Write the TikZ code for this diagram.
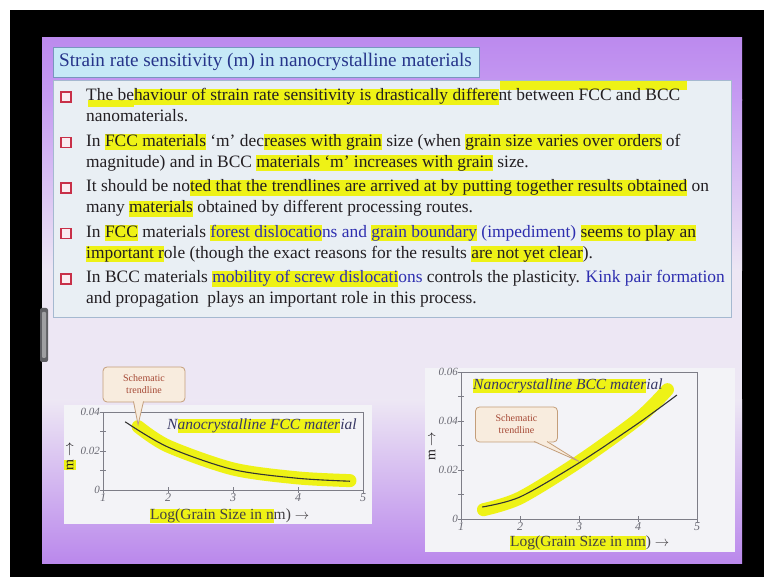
\documentclass[tikz,border=0pt]{standalone}
\usepackage{fontspec}
\setmainfont{Liberation Serif}

\definecolor{slideA}{RGB}{188,138,238}
\definecolor{slideB}{RGB}{198,156,242}
\definecolor{slidePale}{RGB}{237,231,244}
\definecolor{slideC}{RGB}{186,136,236}
\definecolor{titlefill}{RGB}{198,233,247}
\definecolor{titledraw}{RGB}{120,150,190}
\definecolor{titletext}{RGB}{38,52,138}
\definecolor{boxfill}{RGB}{233,239,244}
\definecolor{boxdraw}{RGB}{165,185,208}
\definecolor{bodytext}{RGB}{34,30,34}
\definecolor{tblue}{RGB}{45,45,175}
\definecolor{bulletred}{RGB}{200,48,72}
\definecolor{bulletfill}{RGB}{250,236,240}
\definecolor{marker}{RGB}{238,242,22}
\definecolor{panelfill}{RGB}{243,243,247}
\definecolor{axisgray}{RGB}{125,125,135}
\definecolor{ticktext}{RGB}{105,105,115}
\definecolor{plottitle}{RGB}{55,55,100}
\definecolor{callfill}{RGB}{248,236,222}
\definecolor{calldraw}{RGB}{196,158,122}
\definecolor{calltext}{RGB}{165,72,52}
\definecolor{hinge}{RGB}{95,95,100}

% highlighter stroke behind a piece of text, spacing unchanged
\newsavebox\hlbox
\newcommand\hl[1]{\sbox\hlbox{#1}\rlap{\textcolor{marker}{\rule[-0.22em]{\wd\hlbox}{0.92em}}}\usebox\hlbox}

\begin{document}
\begin{tikzpicture}[x=1pt,y=-1pt,
  bodyline/.style={anchor=base west,inner sep=0pt,font=\fontsize{17.4}{21}\selectfont,text=bodytext},
  bulletbox/.style={draw=bulletred,line width=1.7pt,fill=bulletfill,minimum size=10pt,inner sep=0pt},
  panel/.style={fill=panelfill},
  axisline/.style={draw=axisgray,line width=0.8pt},
  ticklab/.style={inner sep=0pt,font=\itshape\fontsize{11}{12}\selectfont,text=ticktext},
  ylab/.style={inner sep=0pt,rotate=90,font=\fontsize{14}{16}\selectfont,text=bodytext},
  xlab/.style={anchor=base west,inner sep=0pt,font=\fontsize{15.5}{18}\selectfont,text=bodytext!85},
  ptitle/.style={anchor=base west,inner sep=0pt,font=\itshape\fontsize{15.5}{18}\selectfont,text=plottitle},
  callout/.style={draw=calldraw,fill=callfill,line width=0.8pt,rounded corners=4pt,
    minimum width=82pt,minimum height=35pt,align=center,inner sep=1pt,
    font=\fontsize{10}{12}\selectfont,text=calltext},
  calltail/.style={draw=calldraw,line width=0.8pt},
  trend/.style={draw=black!80,line width=1.1pt},
  markstroke/.style={draw=marker,line width=13pt,line cap=round}]

\useasboundingbox (0,0) rectangle (764,577);

% screen surround
\fill[white] (0,0) rectangle (764,577);
\fill[black] (10,10) rectangle (764,577);

% slide background: purple top and bottom, pale in the middle
\shade[top color=slideA,bottom color=slideB] (42,38) rectangle (742,100.5);
\shade[top color=slideB,bottom color=slidePale] (42,100) rectangle (742,270.5);
\fill[slidePale] (42,270) rectangle (742,400.5);
\shade[top color=slidePale,bottom color=slideC] (42,400) rectangle (742,563);

% hinge on the left edge
\fill[hinge,rounded corners=2pt] (40,308) rectangle (48,362);
\fill[hinge!60,rounded corners=1pt] (42,312) rectangle (46,358);

% heading
\draw[fill=titlefill,draw=titledraw,line width=0.8pt] (53,47) rectangle (479,77);
\node[anchor=base west,inner sep=0pt,font=\fontsize{19.2}{22}\selectfont,text=titletext]
  (title) at (59,67) {Strain rate sensitivity (m) in nanocrystalline materials};

% bullet list box
\draw[fill=boxfill,draw=boxdraw,line width=0.8pt] (53,80) rectangle (731,317);
\fill[marker] (500,81) rectangle (687,90);
\fill[marker] (88,100) rectangle (134,107);

\node[bulletbox] (b1) at (66,97) {};
\node[bulletbox] (b2) at (66,142.5) {};
\node[bulletbox] (b3) at (66,188) {};
\node[bulletbox] (b4) at (66,233.5) {};
\node[bulletbox] (b5) at (66,279) {};

\node[bodyline] (l1) at (86,101) {The be\hl{haviour of strain rate sensitivity is drastically differe}nt between FCC and BCC};
\node[bodyline] (l2) at (86,122) {nanomaterials.};
\node[bodyline] (l3) at (86,146.5) {In \hl{FCC materials} `m' dec\hl{reases with grain} size (when \hl{grain size varies over orders} of};
\node[bodyline] (l4) at (86,167.5) {magnitude) and in BCC \hl{materials `m' increases with grain} size.};
\node[bodyline] (l5) at (86,192) {It should be no\hl{ted that the trendlines are arrived at by putting together results obtained} on};
\node[bodyline] (l6) at (86,213) {many \hl{materials} obtained by different processing routes.};
\node[bodyline] (l7) at (86,237.5) {In \hl{FCC} materials \hl{\textcolor{tblue}{forest dislocatio}}\textcolor{tblue}{ns and} \hl{\textcolor{tblue}{grain boundary}} \textcolor{tblue}{(impediment)} \hl{seems to play an}};
\node[bodyline] (l8) at (86,258.5) {\hl{important r}ole (though the exact reasons for the results \hl{are not yet clear}).};
\node[bodyline] (l9) at (86,283) {In BCC materials \hl{\textcolor{tblue}{mobility of screw dislocati}}\textcolor{tblue}{ons} controls the plasticity. \textcolor{tblue}{Kink pair formation}};
\node[bodyline] (l10) at (86,304) {and propagation\ \ plays an important role in this process.};

% ---------- FCC plot ----------
\fill[panel] (64,405) rectangle (372,524);
\begin{scope}[shift={(38pt,-490pt)},x=65pt,y=1950pt]
  \draw[axisline] (1,0) rectangle (5,0.04);
  \foreach \v in {0,0.01,0.02,0.03,0.04}
    \draw[axisline] (1,\v) ++(-3pt,0pt) -- ++(6pt,0pt);
  \foreach \u in {1,2,3,4,5}
    \draw[axisline] (\u,0) ++(0pt,-3pt) -- ++(0pt,6pt);
  \node[ticklab,anchor=east,xshift=-3pt] (fy0) at (1,0) {0};
  \node[ticklab,anchor=east,xshift=-3pt] (fy2) at (1,0.02) {0.02};
  \node[ticklab,anchor=east,xshift=-3pt] (fy4) at (1,0.04) {0.04};
  \foreach \u in {1,2,3,4,5}
    \node[ticklab,anchor=north,yshift=-3pt,font=\itshape\fontsize{12}{13}\selectfont] (fx\u) at (\u,0) {\u};
  \draw[markstroke] plot[smooth] coordinates {(1.54,0.0325) (2,0.0225) (3,0.0108) (4,0.0062) (4.8,0.0048)};
  \draw[trend] plot[smooth] coordinates {(1.34,0.035) (2,0.022) (3,0.0105) (4,0.006) (4.8,0.0045)};
  \coordinate (ftip) at (1.54,0.0335);
\end{scope}
\node[ylab] (fm) at (70,456) {\hl{m} $\rightarrow$};
\node[ptitle] (ftitle) at (167,430) {N\hl{anocrystalline FCC mater}ial};
\node[xlab] (fxl) at (150,520) {\hl{Log(Grain Size in n}m) $\rightarrow$};
\node[callout] (fcall) at (144,384.5) {Schematic\\trendline};
\fill[callfill] (133.5,400.5) -- (ftip) -- (143.5,400.5) -- cycle;
\draw[calltail] (133.5,401.5) -- (ftip) -- (143.5,401.5);

% ---------- BCC plot ----------
\fill[panel] (425,368) rectangle (735,552);
\begin{scope}[shift={(402pt,-519pt)},x=59pt,y=2450pt]
  \draw[axisline] (1,0) rectangle (5,0.06);
  \foreach \v in {0,0.01,0.02,0.03,0.04,0.05,0.06}
    \draw[axisline] (1,\v) ++(-3pt,0pt) -- ++(6pt,0pt);
  \foreach \u in {1,2,3,4,5}
    \draw[axisline] (\u,0) ++(0pt,-3pt) -- ++(0pt,6pt);
  \node[ticklab,anchor=east,xshift=-3pt] (by0) at (1,0) {0};
  \node[ticklab,anchor=east,xshift=-3pt] (by2) at (1,0.02) {0.02};
  \node[ticklab,anchor=east,xshift=-3pt] (by4) at (1,0.04) {0.04};
  \node[ticklab,anchor=east,xshift=-3pt] (by6) at (1,0.06) {0.06};
  \foreach \u in {1,2,3,4,5}
    \node[ticklab,anchor=north,yshift=-3pt,font=\itshape\fontsize{12}{13}\selectfont] (bx\u) at (\u,0) {\u};
  \draw[markstroke] plot[smooth] coordinates {(1.38,0.0038) (2,0.0086) (3,0.0234) (4,0.0408) (4.5,0.0528)};
  \draw[trend] plot[smooth] coordinates {(1.36,0.0049) (2,0.009) (3,0.0229) (4,0.039) (4.66,0.0506)};
  \coordinate (btip) at (3.0,0.0235);
\end{scope}
\node[ylab] (bm) at (432,446) {m $\rightarrow$};
\node[ptitle] (btitle) at (473,390) {\hl{Nanocrystalline BCC mater}ial};
\node[xlab] (bxl) at (510,547) {\hl{Log(Grain Size in nm}) $\rightarrow$};
\node[callout] (bcall) at (516.5,424.5) {Schematic\\trendline};
\fill[callfill] (534,440.5) -- (btip) -- (547,440.5) -- cycle;
\draw[calltail] (534,441.5) -- (btip) -- (547,441.5);

\end{tikzpicture}
\end{document}
